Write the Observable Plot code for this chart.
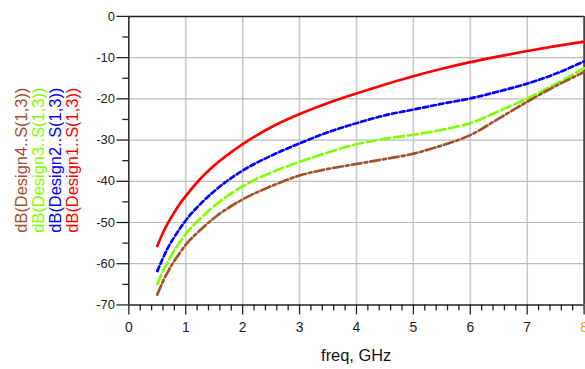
<!DOCTYPE html>
<html>
<head>
<meta charset="utf-8">
<script src="https://cdn.jsdelivr.net/npm/d3@7"></script>
<script src="https://cdn.jsdelivr.net/npm/@observablehq/plot@0.6"></script>
<style>
  html, body { margin: 0; padding: 0; overflow: hidden; background: #fff; }
  #chart svg { display: block; }
</style>
</head>
<body>
<div id="chart"></div>
<script>
// ---- data ----
const freq    = [0.5, 0.6, 0.7, 0.8, 0.9, 1, 1.25, 1.5, 2, 2.5, 3, 3.5, 4, 4.5, 5, 5.5, 6, 6.5, 7, 7.5, 8];
const design1 = [-55.7, -52.5, -49.8, -47.5, -45.4, -43.6, -39.5, -36.2, -31.0, -26.9, -23.7, -21.0, -18.7, -16.5, -14.5, -12.7, -11.1, -9.7, -8.4, -7.2, -6.1];
const design2 = [-61.8, -58.6, -55.8, -53.5, -51.4, -49.5, -45.6, -42.4, -37.4, -33.8, -30.8, -28.1, -25.9, -24.0, -22.6, -21.2, -19.9, -18.2, -16.3, -13.9, -10.9];
const design3 = [-65.0, -61.8, -59.1, -56.7, -54.7, -52.8, -49.1, -46.0, -41.2, -37.9, -35.3, -33.0, -31.0, -29.7, -28.7, -27.5, -25.9, -23.0, -19.9, -16.4, -12.6];
const design4 = [-67.5, -64.3, -61.6, -59.3, -57.3, -55.4, -51.9, -48.9, -44.4, -41.2, -38.6, -37.0, -35.8, -34.6, -33.3, -31.3, -28.8, -24.8, -20.7, -16.9, -13.5];
const seriesNames  = ["dB(Design1..S(1,3))", "dB(Design2..S(1,3))", "dB(Design3..S(1,3))", "dB(Design4..S(1,3))"];
const seriesColors = ["#ff0000", "#0000ff", "#80ff00", "#a0522d"];
const seriesDash   = [null, "5,3", "10,4", "10,3,3,3"];
const xTicks = [0, 1, 2, 3, 4, 5, 6, 7, 8];
const xMinor = [0.2,0.4,0.6,0.8,1.2,1.4,1.6,1.8,2.2,2.4,2.6,2.8,3.2,3.4,3.6,3.8,4.2,4.4,4.6,4.8,5.2,5.4,5.6,5.8,6.2,6.4,6.6,6.8,7.2,7.4,7.6,7.8];
const yTicks = [0, -10, -20, -30, -40, -50, -60, -70];
const yMinor = [-5, -15, -25, -35, -45, -55, -65];
const xGrid = [1, 2, 3, 4, 5, 6, 7];
const yGrid = [-10, -20, -30, -40, -50, -60];
const xLabel = "freq, GHz";

const allSeries = [design1, design2, design3, design4];
const rows = allSeries.map((vals, k) => freq.map((f, i) => ({freq: f, value: vals[i], series: seriesNames[k]})));

const font = "'Liberation Sans', Arial, sans-serif";

const lineMarks = rows.map((r, k) => Plot.line(r, {
  x: "freq", y: "value", stroke: seriesColors[k], strokeWidth: 2.7,
  strokeDasharray: seriesDash[k], curve: "monotone-x"
}));

const chart = Plot.plot({
  width: 588, height: 369,
  marginLeft: 129, marginRight: 1.4, marginTop: 16, marginBottom: 63,
  style: {fontFamily: font, color: "#222", background: "#fff", overflow: "visible"},
  x: {domain: [0, 8]},
  y: {domain: [-70, 0]},
  color: {type: "identity"},
  marks: [
    Plot.ruleX(xGrid, {x: d => d, y1: -70, y2: 0, stroke: "#cccccc", strokeWidth: 1.7}),
    Plot.ruleY(yGrid, {y: d => d, x1: 0, x2: 8, stroke: "#bdbdbd", strokeWidth: 1.2}),
    Plot.axisY({ticks: yTicks, tickSize: 12, tickPadding: 2, fontSize: 13, label: null, strokeWidth: 1.3,
      tickFormat: d => d.toString()}),
    Plot.axisY({ticks: yMinor, tickSize: 6, tickFormat: () => "", label: null, strokeWidth: 1.3}),
    Plot.axisX({ticks: xTicks, tickSize: 10, tickFormat: () => "", label: null, strokeWidth: 1.3}),
    Plot.axisX({ticks: xMinor, tickSize: 6, tickFormat: () => "", label: null, strokeWidth: 1.3}),
    Plot.text(xTicks, {x: d => d, y: -70, dy: 22.5, text: d => d.toString(), fontSize: 14,
      fill: d => d === 8 ? "#e8a33c" : "#222"}),
    Plot.ruleY([0], {stroke: "#222", strokeWidth: 1.5}),
    Plot.ruleY([-70], {stroke: "#222", strokeWidth: 1.5}),
    Plot.ruleX([0], {stroke: "#222", strokeWidth: 1.5}),
    Plot.ruleX([8], {stroke: "#222", strokeWidth: 1.5}),
    ...lineMarks
  ]
});

const svg = d3.select(chart);
svg.append("text")
  .attr("x", 358).attr("y", 363)
  .attr("text-anchor", "middle")
  .attr("font-size", 16.5).attr("font-family", font).attr("fill", "#111")
  .text(xLabel);

const legendX = [72, 55, 38, 21];
seriesNames.forEach((name, k) => {
  svg.append("text")
    .attr("transform", `translate(${legendX[k] + 6},161) rotate(-90)`)
    .attr("text-anchor", "middle")
    .attr("font-size", 16.5).attr("font-family", font)
    .attr("fill", seriesColors[k])
    .text(name);
});

document.getElementById("chart").appendChild(chart);
</script>
</body>
</html>
